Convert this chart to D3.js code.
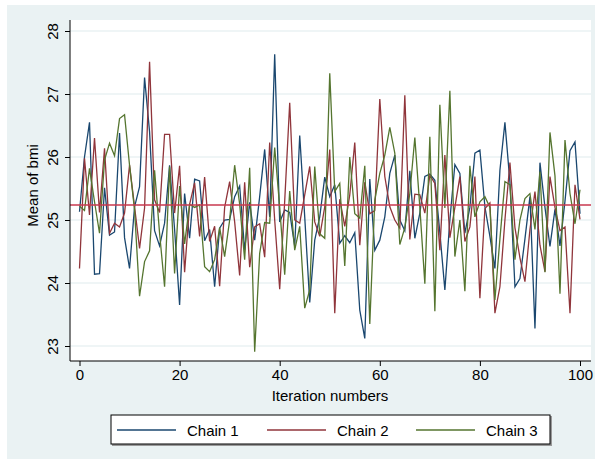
<!DOCTYPE html>
<html><head><meta charset="utf-8">
<script src="https://cdn.jsdelivr.net/npm/d3@7"></script>
<style>body{margin:0;background:#fff}svg{display:block}text{font-family:"Liberation Sans",Arial,sans-serif}</style>
</head><body><svg id="c" width="597" height="459"></svg>
<script>
const chain1 = [25.13,26.0,26.55,24.14,24.15,25.51,24.76,24.81,26.38,24.72,24.23,25.21,25.53,27.26,26.4,24.83,24.59,24.95,25.87,24.85,23.65,25.42,24.71,25.65,25.62,24.67,24.85,23.94,24.87,25.0,25.01,25.37,25.54,24.52,25.28,24.68,25.37,26.12,25.05,27.63,24.97,25.16,25.12,24.58,26.34,25.05,23.69,24.68,25.05,25.68,25.37,25.56,24.63,24.75,24.64,24.8,23.57,23.12,25.65,24.52,24.68,25.05,25.74,26.03,25.0,24.83,25.78,24.71,25.11,25.69,25.73,25.63,24.8,23.89,25.0,25.88,25.74,24.79,25.2,26.06,26.11,25.21,24.74,24.23,25.79,26.55,25.6,23.94,24.07,24.7,25.37,23.28,25.91,25.2,24.58,25.17,24.59,25.3,26.1,26.24,25.1];
const chain2 = [24.23,25.98,25.08,26.3,25.12,26.14,24.79,24.95,24.89,25.11,25.87,25.21,24.55,25.19,27.51,25.32,25.12,26.36,26.36,25.11,25.86,24.17,25.25,25.59,24.74,25.68,24.66,24.9,23.95,25.2,25.61,24.97,24.12,25.6,24.25,24.89,24.94,24.41,26.23,25.0,23.9,25.3,26.86,25.0,24.95,25.4,25.85,24.97,24.74,25.21,26.12,23.52,25.33,24.9,25.4,26.23,24.6,25.6,25.1,25.15,26.92,25.69,25.21,25.0,24.87,26.98,24.69,25.41,25.4,25.11,25.71,25.58,24.52,26.03,24.72,25.2,25.69,24.66,24.89,25.69,23.76,25.18,25.27,23.52,23.94,25.0,25.91,24.88,24.4,24.02,24.85,25.45,24.6,24.18,25.69,25.2,24.83,24.89,23.52,25.56,25.01];
const chain3 = [25.22,25.15,25.82,25.29,24.79,25.95,26.22,26.02,26.61,26.67,25.87,25.16,23.79,24.34,24.51,25.79,24.79,23.94,25.85,24.15,25.54,24.62,25.25,25.2,25.24,24.26,24.18,24.37,24.88,24.42,25.0,25.87,25.25,24.37,25.83,22.91,24.47,24.96,24.95,26.15,25.2,24.13,25.46,24.52,24.9,23.6,23.89,25.85,24.78,24.71,27.33,25.45,25.58,24.27,26.0,25.1,25.03,25.86,23.35,25.32,25.74,26.03,26.47,26.06,24.61,24.88,25.42,26.31,25.2,23.99,26.32,23.55,26.83,25.19,27.05,24.42,25.0,23.87,25.86,25.05,25.29,25.37,25.2,23.73,24.7,25.61,25.56,24.37,25.0,25.34,25.42,24.85,25.77,24.17,26.39,25.7,23.83,26.27,25.42,24.94,25.48];
const meanValue = 25.24;
const seriesNames = ["Chain 1","Chain 2","Chain 3"];
const xTicks = [0,20,40,60,80,100];
const yTicks = [23,24,25,26,27,28];
const colors = ["#1a476f","#90353b","#55752f"];

const svg = d3.select("#c");
svg.append("rect").attr("x",7).attr("y",5).attr("width",588).attr("height",454).attr("fill","#eaf2f3");
const L=70, R=591, T=20, B=361;
svg.append("rect").attr("x",L).attr("y",T).attr("width",R-L).attr("height",B-T).attr("fill","#fff");

const x = d3.scaleLinear().domain([0,100]).range([79.5,580]);
const y = d3.scaleLinear().domain([23,28]).range([346,31]);

svg.append("g").selectAll("line").data(yTicks).join("line")
  .attr("x1",L).attr("x2",R).attr("y1",d=>y(d)).attr("y2",d=>y(d))
  .attr("stroke","#eaf2f3").attr("stroke-width",1.5);

const line = d3.line().x((d,i)=>x(i)).y(d=>y(d));
[chain1,chain2,chain3].forEach((s,k)=>{
  svg.append("path").datum(s).attr("d",line).attr("fill","none")
    .attr("stroke",colors[k]).attr("stroke-width",1.3).attr("stroke-linejoin","miter");
});

svg.append("line").attr("x1",L).attr("x2",R).attr("y1",y(meanValue)).attr("y2",y(meanValue))
  .attr("stroke","#c8384f").attr("stroke-width",1.5);

const yAxis = d3.axisLeft(y).tickValues(yTicks).tickFormat(d3.format("d")).tickSize(5).tickPadding(4);
const gy = svg.append("g").attr("transform",`translate(${L},0)`).call(yAxis);
gy.select(".domain").attr("d",`M0,${T}V${B}`);
gy.selectAll(".tick text").attr("transform","rotate(-90)").attr("x",0).attr("y",-12)
  .attr("dy","0").attr("text-anchor","middle").style("font-size","15px").attr("fill","#000");
const xAxis = d3.axisBottom(x).tickValues(xTicks).tickFormat(d3.format("d")).tickSize(5).tickPadding(3);
const gx = svg.append("g").attr("transform",`translate(0,${B})`).call(xAxis);
gx.select(".domain").attr("d",`M${L},0H${R}`);
gx.selectAll(".tick text").style("font-size","15px").attr("fill","#000");
svg.selectAll(".domain, .tick line").attr("stroke","#000");

svg.append("text").attr("transform",`translate(38,${(T+B)/2-5}) rotate(-90)`).attr("text-anchor","middle")
  .style("font-size","15px").text("Mean of bmi");
svg.append("text").attr("x",330).attr("y",401).attr("text-anchor","middle")
  .style("font-size","15px").text("Iteration numbers");

svg.append("rect").attr("x",112).attr("y",416).attr("width",440).attr("height",30).attr("fill","#999");
svg.append("rect").attr("x",111).attr("y",415).attr("width",439).attr("height",29).attr("fill","#fff").attr("stroke","#000").attr("stroke-width",1);
const lx=[117,267,416];
seriesNames.forEach((n,k)=>{
  svg.append("line").attr("x1",lx[k]).attr("x2",lx[k]+59).attr("y1",430).attr("y2",430)
    .attr("stroke",colors[k]).attr("stroke-width",1.5);
  svg.append("text").attr("x",lx[k]+70).attr("y",435.5).style("font-size","15px").text(n);
});
</script></body></html>
